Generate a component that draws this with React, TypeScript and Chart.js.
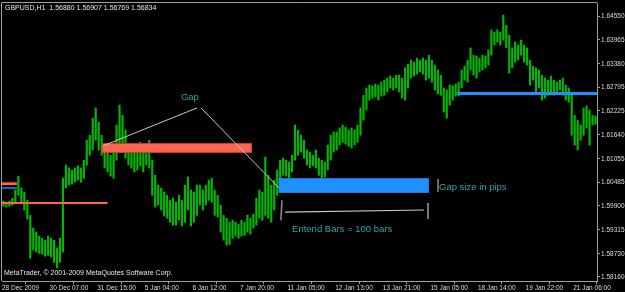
import React, { useEffect, useRef } from "react";
import { Chart, registerables } from "chart.js";

Chart.register(...registerables);

// Each entry = one 2-hour slice (two H1 bars), GBPUSD 28 Dec 2009 - 21 Jan 2010
const highs = [
  1.6002, 1.5999, 1.6002, 1.6009, 1.6029, 1.6063, 1.6034, 1.6024, 1.6004, 1.5967,
  1.5936, 1.5926, 1.5916, 1.5911, 1.5906, 1.5916, 1.5911, 1.5906, 1.5887, 1.5911,
  1.6058, 1.6090, 1.6083, 1.6078, 1.6083, 1.6088, 1.6083, 1.6102, 1.6151, 1.6163,
  1.6205, 1.6230, 1.6195, 1.6163, 1.6139, 1.6127, 1.6114, 1.6127, 1.6188, 1.6237,
  1.6212, 1.6176, 1.6132, 1.6127, 1.6122, 1.6132, 1.6146, 1.6136, 1.6139, 1.6151,
  1.6102, 1.6065, 1.6041, 1.6034, 1.6024, 1.6016, 1.6004, 1.6009, 1.5999, 1.6016,
  1.6004, 1.6041, 1.6061, 1.6029, 1.6024, 1.6041, 1.6041, 1.6029, 1.6041, 1.6053,
  1.6058, 1.6029, 1.6016, 1.5992, 1.5967, 1.5960, 1.5950, 1.5955, 1.5950, 1.5945,
  1.5955, 1.5950, 1.5967, 1.5960, 1.5970, 1.6009, 1.6029, 1.6024, 1.6110, 1.6065,
  1.6041, 1.6053, 1.6078, 1.6102, 1.6107, 1.6102, 1.6097, 1.6114, 1.6188, 1.6176,
  1.6163, 1.6151, 1.6127, 1.6122, 1.6114, 1.6127, 1.6107, 1.6102, 1.6097, 1.6139,
  1.6163, 1.6171, 1.6171, 1.6181, 1.6188, 1.6183, 1.6176, 1.6181, 1.6176, 1.6188,
  1.6230, 1.6261, 1.6279, 1.6286, 1.6284, 1.6288, 1.6286, 1.6293, 1.6298, 1.6303,
  1.6308, 1.6303, 1.6310, 1.6310, 1.6303, 1.6328, 1.6337, 1.6347, 1.6342, 1.6352,
  1.6347, 1.6352, 1.6347, 1.6359, 1.6347, 1.6335, 1.6323, 1.6310, 1.6279, 1.6274,
  1.6286, 1.6284, 1.6288, 1.6293, 1.6323, 1.6332, 1.6347, 1.6377, 1.6359, 1.6357,
  1.6352, 1.6359, 1.6357, 1.6372, 1.6421, 1.6416, 1.6421, 1.6416, 1.6457, 1.6433,
  1.6408, 1.6377, 1.6391, 1.6384, 1.6396, 1.6384, 1.6377, 1.6347, 1.6332, 1.6328,
  1.6323, 1.6310, 1.6303, 1.6298, 1.6308, 1.6298, 1.6293, 1.6298, 1.6303, 1.6286,
  1.6279, 1.6261, 1.6212, 1.6200, 1.6188, 1.6230, 1.6235, 1.6225, 1.6212, 1.6210,
];

const lows = [
  1.5989, 1.5987, 1.5989, 1.5992, 1.5999, 1.6016, 1.5997, 1.5980, 1.5958, 1.5862,
  1.5882, 1.5877, 1.5874, 1.5872, 1.5867, 1.5869, 1.5865, 1.5852, 1.5838, 1.5852,
  1.5877, 1.6034, 1.6041, 1.6043, 1.6048, 1.6053, 1.6048, 1.6058, 1.6090, 1.6114,
  1.6127, 1.6151, 1.6127, 1.6114, 1.6083, 1.6073, 1.6063, 1.6058, 1.6102, 1.6139,
  1.6132, 1.6107, 1.6090, 1.6083, 1.6073, 1.6078, 1.6088, 1.6073, 1.6090, 1.6083,
  1.6016, 1.5987, 1.5992, 1.5980, 1.5965, 1.5960, 1.5950, 1.5943, 1.5943, 1.5955,
  1.5941, 1.5950, 1.5980, 1.5941, 1.5950, 1.5967, 1.5992, 1.5980, 1.5992, 1.6004,
  1.5999, 1.5967, 1.5963, 1.5926, 1.5906, 1.5894, 1.5896, 1.5911, 1.5916, 1.5911,
  1.5916, 1.5918, 1.5926, 1.5921, 1.5936, 1.5943, 1.5960, 1.5955, 1.5967, 1.5960,
  1.5950, 1.5980, 1.6016, 1.6053, 1.6065, 1.6063, 1.6058, 1.6073, 1.6102, 1.6114,
  1.6122, 1.6107, 1.6090, 1.6083, 1.6088, 1.6083, 1.6065, 1.6058, 1.6061, 1.6078,
  1.6102, 1.6122, 1.6127, 1.6139, 1.6146, 1.6141, 1.6136, 1.6132, 1.6139, 1.6146,
  1.6163, 1.6200, 1.6225, 1.6249, 1.6254, 1.6257, 1.6249, 1.6259, 1.6261, 1.6269,
  1.6279, 1.6274, 1.6279, 1.6269, 1.6254, 1.6249, 1.6279, 1.6303, 1.6308, 1.6313,
  1.6318, 1.6313, 1.6298, 1.6303, 1.6293, 1.6274, 1.6264, 1.6261, 1.6220, 1.6205,
  1.6237, 1.6249, 1.6259, 1.6259, 1.6279, 1.6298, 1.6293, 1.6323, 1.6310, 1.6303,
  1.6318, 1.6323, 1.6328, 1.6335, 1.6359, 1.6384, 1.6391, 1.6384, 1.6396, 1.6377,
  1.6315, 1.6328, 1.6342, 1.6347, 1.6359, 1.6342, 1.6335, 1.6286, 1.6298, 1.6269,
  1.6279, 1.6249, 1.6254, 1.6261, 1.6269, 1.6261, 1.6269, 1.6274, 1.6261, 1.6249,
  1.6244, 1.6163, 1.6139, 1.6127, 1.6151, 1.6163, 1.6181, 1.6139, 1.6188, 1.6190,
];

// x axis: H1 bar index of each time label
const tickBars = [0, 32, 64, 96, 128, 160, 192, 224, 256, 288, 320, 352, 384];
const tickLabels = [
  "28 Dec 2009", "30 Dec 07:00", "31 Dec 15:00", "5 Jan 04:00", "6 Jan 12:00",
  "7 Jan 20:00", "11 Jan 05:00", "12 Jan 13:00", "13 Jan 21:00", "15 Jan 05:00",
  "18 Jan 14:00", "19 Jan 22:00", "21 Jan 06:00",
];
const priceTicks = [
  1.6455, 1.63965, 1.6338, 1.62795, 1.62225, 1.6164, 1.61055, 1.60485, 1.599,
  1.59315, 1.5873, 1.5816,
];

const titleText = "GBPUSD,H1  1.56880 1.56907 1.56769 1.56834";
const copyrightText = "MetaTrader, \u00A9 2001-2009 MetaQuotes Software Corp.";

// objects in (bar index, price)
const gapRect = { b0: 67, b1: 168, pTop: 1.6144, pBot: 1.612 };
const gapLine = { b0: 0, b1: 71, p: 1.5997 };
const oldGapRect = { b0: 0, b1: 10, pTop: 1.6048, pBot: 1.6041 };
const oldBlueLine = { b0: 0, b1: 10, p: 1.6034 };
const blueRect = { b0: 186, b1: 287, pTop: 1.6058, pBot: 1.6022 };
const blueLine = { b0: 306, b1: 400, p: 1.6265 };
const gapLabel = { b: 120.3, p: 1.6257, text: "Gap" };
const pointer1 = { b0: 67.9, p0: 1.6137, b1: 131.1, p1: 1.623 };
const pointer2 = { b0: 133.8, p0: 1.623, b1: 186.2, p1: 1.6034 };
const sizeLabel = { b: 293.8, p: 1.6036, text: "Gap size in pips" };
const sizeMark = { b: 293.1, p0: 1.6056, p1: 1.6024 };
const extendLabel = { b: 195, p: 1.5933, text: "Entend Bars = 100 bars" };
const bracketLeft = { b0: 188.2, p0: 1.6004, b1: 187.5, p1: 1.5955 };
const bracketLine = { b0: 190.3, p0: 1.5975, b1: 283.7, p1: 1.5980 };
const bracketRight = { b: 286.4, p0: 1.5997, p1: 1.5958 };

const FONT = "'Liberation Sans', Arial, sans-serif";
const AXIS = "#a0a0a0";
const TEAL = "#2aa6a6";

const overlay = {
  id: "overlay",
  beforeDraw(chart: any) {
    const { ctx, width, height } = chart;
    ctx.save();
    ctx.fillStyle = "#000";
    ctx.fillRect(0, 0, width, height);
    ctx.restore();
  },
  afterDatasetsDraw(chart: any) {
    const { ctx, chartArea, scales } = chart;
    const X = (b: number) => scales.x.getPixelForValue(b);
    const Y = (p: number) => scales.y.getPixelForValue(p);
    ctx.save();

    // frame (left + top)
    ctx.strokeStyle = AXIS;
    ctx.lineWidth = 1;
    ctx.beginPath();
    ctx.moveTo(chartArea.left - 0.5, chartArea.bottom);
    ctx.lineTo(chartArea.left - 0.5, chartArea.top - 0.5);
    ctx.lineTo(chartArea.right, chartArea.top - 0.5);
    ctx.stroke();

    const rect = (r: any, fill: string, stroke: string | null) => {
      const x0 = X(r.b0), x1 = X(r.b1), y0 = Y(r.pTop), y1 = Y(r.pBot);
      ctx.fillStyle = fill;
      ctx.fillRect(x0, y0, x1 - x0, y1 - y0);
      if (stroke) {
        ctx.strokeStyle = stroke;
        ctx.lineWidth = 1;
        ctx.strokeRect(x0 + 0.5, y0 + 0.5, x1 - x0 - 1, y1 - y0 - 1);
      }
    };
    const hline = (l: any, color: string, w: number) => {
      ctx.strokeStyle = color;
      ctx.lineWidth = w;
      ctx.beginPath();
      ctx.moveTo(X(l.b0), Y(l.p));
      ctx.lineTo(X(l.b1), Y(l.p));
      ctx.stroke();
    };
    const seg = (b0: number, p0: number, b1: number, p1: number, color: string, w: number) => {
      ctx.strokeStyle = color;
      ctx.lineWidth = w;
      ctx.beginPath();
      ctx.moveTo(X(b0), Y(p0));
      ctx.lineTo(X(b1), Y(p1));
      ctx.stroke();
    };

    rect(gapRect, "#ff6650", "#c83c2c");
    hline(gapLine, "#ff6650", 2);
    rect(oldGapRect, "#ff6650", null);
    seg(oldGapRect.b0, oldGapRect.pTop, oldGapRect.b1, oldGapRect.pTop, "#a03020", 1);
    hline(oldBlueLine, "#1e8cf0", 1.5);
    rect(blueRect, "#1e90ff", null);
    hline(blueLine, "#1e90ff", 3);

    seg(pointer1.b0, pointer1.p0, pointer1.b1, pointer1.p1, "#c8c8c8", 1);
    seg(pointer2.b0, pointer2.p0, pointer2.b1, pointer2.p1, "#c8c8c8", 1);
    seg(sizeMark.b, sizeMark.p0, sizeMark.b, sizeMark.p1, "#d0d0d0", 1);
    seg(bracketLeft.b0, bracketLeft.p0, bracketLeft.b1, bracketLeft.p1, "#909090", 1.5);
    seg(bracketLine.b0, bracketLine.p0, bracketLine.b1, bracketLine.p1, "#c8c8c8", 1.2);
    seg(bracketRight.b, bracketRight.p0, bracketRight.b, bracketRight.p1, "#a0a0a0", 1.5);

    ctx.textBaseline = "middle";
    ctx.textAlign = "left";
    ctx.fillStyle = TEAL;
    ctx.font = `9.5px ${FONT}`;
    ctx.fillText(gapLabel.text, X(gapLabel.b), Y(gapLabel.p));
    ctx.fillText(sizeLabel.text, X(sizeLabel.b), Y(sizeLabel.p));
    ctx.fillText(extendLabel.text, X(extendLabel.b), Y(extendLabel.p));

    ctx.fillStyle = "#e8e8e8";
    ctx.font = `7px ${FONT}`;
    ctx.fillText(titleText, chartArea.left + 3, chartArea.top + 5);
    ctx.fillText(copyrightText, chartArea.left + 2, chartArea.bottom - 8);
    ctx.restore();
  },
};

export default function App() {
  const ref = useRef<HTMLCanvasElement | null>(null);

  useEffect(() => {
    if (!ref.current) return;
    const chart = new Chart(ref.current, {
      type: "bar",
      data: {
        datasets: [
          {
            data: highs.map((h, i) => ({ x: 2 * i + 1, y: [lows[i], h] })) as any,
            backgroundColor: "#00b800",
            borderWidth: 0,
            barThickness: 1.5,
          },
        ],
      },
      options: {
        animation: false,
        responsive: false,
        events: [],
        layout: { padding: { left: 2, top: 3, right: 0, bottom: 0 } },
        plugins: { legend: { display: false }, tooltip: { enabled: false } },
        scales: {
          x: {
            type: "linear",
            min: 0,
            max: 400,
            offset: false,
            afterBuildTicks: (s: any) => {
              s.ticks = tickBars.map((v) => ({ value: v }));
            },
            afterFit: (s: any) => {
              s.height = 11;
              s.paddingLeft = 0;
              s.paddingRight = 0;
            },
            grid: { drawOnChartArea: false, drawTicks: true, tickLength: 3, color: AXIS },
            border: { display: true, color: AXIS },
            ticks: {
              autoSkip: false,
              maxRotation: 0,
              minRotation: 0,
              align: "start",
              padding: 0,
              color: "#dcdcdc",
              font: { family: FONT, size: 6.5 },
              callback: (_v: any, i: number) => tickLabels[i],
            },
          },
          y: {
            type: "linear",
            position: "right",
            min: 1.58062,
            max: 1.64869,
            afterBuildTicks: (s: any) => {
              s.ticks = priceTicks.map((v) => ({ value: v }));
            },
            afterFit: (s: any) => {
              s.width = 28;
              s.paddingTop = 0;
              s.paddingBottom = 0;
            },
            grid: { drawOnChartArea: false, drawTicks: true, tickLength: 3, color: AXIS },
            border: { display: true, color: AXIS },
            ticks: {
              autoSkip: false,
              padding: 1,
              color: "#dcdcdc",
              font: { family: FONT, size: 6.5 },
              callback: (v: any) => Number(v).toFixed(5),
            },
          },
        },
      },
      plugins: [overlay],
    });
    return () => chart.destroy();
  }, []);

  return (
    <div
      style={{
        position: "fixed",
        left: 0,
        top: 0,
        width: 625,
        height: 292,
        background: "#000",
      }}
    >
      <canvas ref={ref} width={625} height={292} style={{ display: "block" }} />
    </div>
  );
}
